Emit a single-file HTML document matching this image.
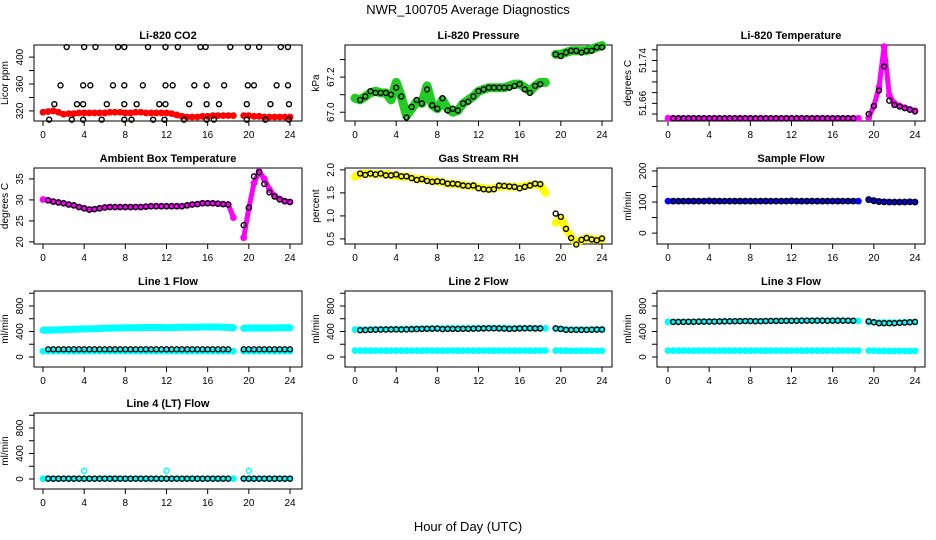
<!DOCTYPE html>
<html><head><meta charset="utf-8"><style>
html,body{margin:0;padding:0;background:#fff;}
svg{display:block;font-family:"Liberation Sans",sans-serif;}
</style></head><body>
<svg id="c" width="936" height="540" viewBox="0 0 936 540">
<text x="468" y="14" text-anchor="middle" font-size="13">NWR_100705  Average Diagnostics</text>
<text x="468" y="531" text-anchor="middle" font-size="13">Hour of Day (UTC)</text>
</svg>
<script>
var hours=[0,0.5,1,1.5,2,2.5,3,3.5,4,4.5,5,5.5,6,6.5,7,7.5,8,8.5,9,9.5,10,10.5,11,11.5,12,12.5,13,13.5,14,14.5,15,15.5,16,16.5,17,17.5,18,18.5,19,19.5,20,20.5,21,21.5,22,22.5,23,23.5,24];
var xTicks=[0,4,8,12,16,20,24];
var N=null;
// CO2
var co2Red=[318,319,320,318,315,316,316,317,317,317,317,317,317,318,318,318,317,317,318,318,317,317,317,317,317,316,314,312,311,311,311,312,312,313,313,313,313,313,N,313,313,312,312,311,311,311,311,311,311];
var co2BlackX=[2.3,4.0,5.1,7.3,7.9,10.2,11.9,13.1,15.3,15.8,18.2,19.9,21.0,23.1,23.8, 1.7,3.9,4.6,6.8,7.9,9.7,11.9,12.6,14.7,15.9,17.6,19.9,20.5,22.7,23.8, 1.1,3.3,3.9,6.2,7.9,9.1,11.3,11.9,14.2,15.9,17.1,19.8,22.1,23.9, 0.6,2.8,3.9,5.7,7.9,8.6,10.7,11.8,13.7,15.9,16.6,19.8,21.6,23.9];
var co2BlackY=[415,415,415,415,415,415,415,415,415,415,415,415,415,415,415, 358,358,358,358,358,358,358,358,358,358,358,358,358,358,358, 330,330,330,330,330,330,330,330,330,330,330,330,330,330, 307,307,307,307,307,307,307,307,307,307,307,307,307,307];
// Pressure
var presGreen=[67.08,67.07,67.09,67.11,67.12,67.11,67.11,67.07,67.17,67.09,66.98,67.02,67.06,67.05,67.15,67.04,67.02,67.07,67.02,67.0,67.01,67.05,67.07,67.09,67.12,67.13,67.14,67.14,67.14,67.14,67.15,67.16,67.16,67.14,67.12,67.15,67.17,67.17,N,67.33,67.33,67.34,67.35,67.35,67.35,67.35,67.36,67.37,67.38];
var presBlack=[N,67.07,67.09,67.12,67.11,67.11,67.11,67.10,67.14,67.09,66.97,67.03,67.07,67.05,67.13,67.04,67.02,67.08,67.01,67.02,67.01,67.05,67.06,67.09,67.12,67.13,67.14,67.14,67.14,67.14,67.14,67.15,67.16,67.13,67.11,67.15,67.16,N,N,67.33,67.32,67.34,67.35,67.35,67.34,67.35,67.35,67.37,67.37];
// Li-820 temperature
var tempMag=[51.632,51.632,51.632,51.632,51.632,51.632,51.632,51.632,51.632,51.632,51.632,51.632,51.632,51.632,51.632,51.632,51.632,51.632,51.632,51.632,51.632,51.632,51.632,51.632,51.632,51.632,51.632,51.632,51.632,51.632,51.632,51.632,51.632,51.632,51.632,51.632,51.632,51.632,N,51.633,51.655,51.690,51.766,51.675,51.660,51.655,51.652,51.649,51.646];
var tempBlack=[N,51.632,51.632,51.632,51.632,51.632,51.632,51.632,51.632,51.632,51.632,51.632,51.632,51.632,51.632,51.632,51.632,51.632,51.632,51.632,51.632,51.632,51.632,51.632,51.632,51.632,51.632,51.632,51.632,51.632,51.632,51.632,51.632,51.632,51.632,51.632,51.632,N,N,51.640,51.655,51.684,51.729,51.665,51.657,51.654,51.651,51.648,51.645];
// Ambient box temperature
var ambMag=[30.1,29.9,29.6,29.4,29.2,28.9,28.7,28.3,28.0,27.7,27.8,28.0,28.2,28.3,28.3,28.3,28.3,28.3,28.3,28.3,28.4,28.5,28.5,28.5,28.5,28.5,28.5,28.5,28.7,28.9,29.0,29.2,29.2,29.2,29.1,29.0,28.9,25.8,N,21.0,28.0,34.0,36.8,35.0,32.5,31.0,30.2,29.7,29.5];
var ambBlack=[N,29.9,29.6,29.4,29.2,28.9,28.7,28.3,28.0,27.7,27.8,28.0,28.2,28.3,28.3,28.3,28.3,28.3,28.3,28.3,28.4,28.5,28.5,28.5,28.5,28.5,28.5,28.5,28.7,28.9,29.0,29.2,29.2,29.2,29.1,29.0,28.9,N,N,24.0,28.2,35.6,36.6,33.8,31.8,30.8,30.1,29.7,29.5];
// Gas stream RH
var rhYel=[1.85,1.9,1.92,1.91,1.9,1.9,1.91,1.88,1.87,1.85,1.85,1.83,1.8,1.8,1.78,1.76,1.75,1.73,1.7,1.7,1.68,1.67,1.65,1.65,1.62,1.6,1.58,1.6,1.63,1.65,1.63,1.63,1.62,1.65,1.67,1.68,1.68,1.5,N,0.85,0.95,0.72,0.55,0.4,0.48,0.52,0.5,0.48,0.5];
var rhBlack=[N,1.92,1.89,1.92,1.9,1.92,1.88,1.88,1.9,1.86,1.86,1.82,1.78,1.8,1.76,1.74,1.75,1.74,1.7,1.7,1.69,1.66,1.65,1.66,1.6,1.58,1.57,1.58,1.66,1.65,1.64,1.63,1.6,1.63,1.66,1.7,1.69,N,N,1.05,0.98,0.72,0.52,0.38,0.48,0.52,0.49,0.47,0.51];
// Sample flow
var sfBlue=[103,103,103,103,103,103,103,103,104,103,103,103,103,103,103,103,103,103,103,103,103,103,103,103,104,103,103,103,103,103,103,103,103,103,103,103,103,103,N,108,105,102,101,100,100,100,100,101,100];
var sfBlack=[N,103,103,103,103,103,103,103,103,103,103,103,103,103,103,103,103,103,103,103,103,103,103,103,103,103,103,103,103,103,103,103,103,103,103,103,103,N,N,107,103,101,100,100,100,100,100,100,100];
// Line flows
var l1High=[420,420,425,425,430,432,435,437,440,440,442,445,450,452,455,455,458,460,460,460,462,462,462,462,458,460,462,465,465,468,468,470,470,470,470,468,462,460,N,450,455,455,455,455,455,455,458,458,458];
var l1Low=[90,90,90,90,90,90,90,90,90,90,90,90,90,90,90,90,90,90,90,90,90,90,90,90,90,90,90,90,90,90,90,90,90,90,90,90,90,90,N,90,90,90,90,90,90,90,90,90,90];
var l1Black=[N,120,120,120,120,120,120,120,120,120,120,120,120,120,120,120,120,120,120,120,120,120,120,120,120,120,120,120,120,120,120,120,120,120,120,120,120,N,N,120,120,120,120,120,120,120,120,120,120];
var l2High=[430,430,432,432,434,434,436,436,438,440,440,442,444,444,446,446,448,448,450,450,450,450,450,450,452,452,452,452,452,452,450,450,450,450,450,450,450,450,N,440,440,435,430,430,430,430,430,432,432];
var l2Low=[100,100,100,100,100,100,100,100,100,100,100,100,100,100,100,100,100,100,100,100,100,100,100,100,100,100,100,100,100,100,100,100,100,100,100,100,100,100,N,100,100,100,98,98,98,98,98,98,98];
var l2Black=[N,420,422,425,428,430,430,432,432,430,432,435,438,440,442,444,446,438,440,440,440,442,442,444,446,448,450,450,448,446,440,444,448,450,450,448,448,N,N,450,440,425,425,425,425,425,428,430,430];
var l3High=[550,550,550,552,552,552,555,555,556,556,558,558,560,560,562,562,562,562,562,565,565,565,568,568,568,568,570,570,570,572,572,572,572,572,570,570,568,565,N,545,545,540,540,540,540,540,545,545,548];
var l3Low=[100,100,100,100,100,100,100,100,100,100,100,100,100,100,100,100,100,100,100,100,100,100,100,100,100,100,100,100,100,100,100,100,100,100,100,100,100,100,N,100,100,95,95,95,95,95,95,95,95];
var l3Black=[N,550,550,550,552,552,555,555,556,556,558,560,560,562,562,564,564,562,562,564,566,566,566,568,568,568,570,570,570,570,570,568,570,570,570,570,568,N,N,560,545,530,530,530,530,535,540,545,550];
var l4Cyan=[5,5,5,5,5,5,5,5,5,5,5,5,5,5,5,5,5,5,5,5,5,5,5,5,5,5,5,5,5,5,5,5,5,5,5,5,5,5,N,5,5,5,5,5,5,5,5,5,5];
var l4Black=[N,5,5,5,5,5,5,5,5,5,5,5,5,5,5,5,5,5,5,5,5,5,5,5,5,5,5,5,5,5,5,5,5,5,5,5,5,N,N,5,5,5,5,5,5,5,5,5,5];
var l4OutX=[4,12,20];
var l4OutY=[130,130,130];

var NS="http://www.w3.org/2000/svg";
var svg=document.getElementById('c');
function mk(tag,attrs,parent){var e=document.createElementNS(NS,tag);for(var k in attrs)e.setAttribute(k,attrs[k]);(parent||svg).appendChild(e);return e;}
var cols=[{l:34,r:302,x0:43,x24:290},{l:345,r:612,x0:355,x24:602},{l:657,r:925,x0:668,x24:915}];
var rows=[{t:45,b:121},{t:168,b:244},{t:291,b:367},{t:413,b:489}];
function panel(name,title,ytitle,row,col,yr,ticks,labels,dec){
  var g=mk('g',{});
  
  
  var C=cols[col],R=rows[row];
  var p={g:g,C:C,R:R,
    x:function(h){return C.x0+(C.x24-C.x0)*h/24;},
    y:function(v){return R.b-(v-yr[0])/(yr[1]-yr[0])*(R.b-R.t);}};
  var tt=mk('text',{x:(C.l+C.r)/2,y:R.t-6,'text-anchor':'middle','font-size':11,'font-weight':'bold'},g);
  tt.textContent=title;
  
  
  var fr=mk('rect',{x:C.l,y:R.t,width:C.r-C.l,height:R.b-R.t,fill:'none',stroke:'#000','stroke-width':1},g);
  
  
  xTicks.forEach(function(h){
    var xx=p.x(h);
    mk('line',{x1:xx,x2:xx,y1:R.b,y2:R.b+5,stroke:'#000'},g);
    var t=mk('text',{x:xx,y:R.b+17,'text-anchor':'middle','font-size':10},g);
    t.textContent=h;
    
    
  });
  ticks.forEach(function(v){
    var yy=p.y(v);
    mk('line',{x1:C.l,x2:C.l-5,y1:yy,y2:yy,stroke:'#000'},g);
  });
  labels.forEach(function(v){
    var yy=p.y(v),xx=C.l-11;
    var t=mk('text',{x:xx,y:yy,'text-anchor':'middle','font-size':10,transform:'rotate(-90 '+xx+' '+yy+')'},g);
    t.textContent=v.toFixed(dec);
    
    
  });
  var yx=C.l-26,yc=(R.t+R.b)/2;
  var yt=mk('text',{x:yx,y:yc,'text-anchor':'middle','font-size':10,transform:'rotate(-90 '+yx+' '+yc+')'},g);
  yt.textContent=ytitle;
  
  
  return p;
}
function band(p,vals,color,w){
  var segs=[],cur=[];
  vals.forEach(function(v,i){if(v===null){if(cur.length)segs.push(cur);cur=[];}else cur.push(p.x(hours[i]).toFixed(1)+','+p.y(v).toFixed(1));});
  if(cur.length)segs.push(cur);
  segs.forEach(function(s){
    var pl=mk('polyline',{points:s.join(' '),fill:'none',stroke:color,'stroke-width':w,'stroke-linecap':'round','stroke-linejoin':'round'},p.g);
    
    
  });
  vals.forEach(function(v,i){if(v===null)return;
    var c=mk('circle',{cx:p.x(hours[i]),cy:p.y(v),r:2.6,fill:'none',stroke:color,'stroke-width':1.6},p.g);
    
    
  });
}
function dots(p,xs,ys,color){
  for(var i=0;i<ys.length;i++){if(ys[i]===null)continue;
    var c=mk('circle',{cx:p.x(xs[i]),cy:p.y(ys[i]),r:2.5,fill:'none',stroke:color,'stroke-width':1.4},p.g);
    
    
  }
}
var p;
p=panel('co2-panel','Li-820 CO2','Licor ppm',0,0,[305,418],[320,340,360,380,400],[320,360,400],0);
band(p,co2Red,'#ff0000',5);dots(p,co2BlackX,co2BlackY,'#000');
p=panel('pressure-panel','Li-820 Pressure','kPa',0,1,[66.95,67.383],[67.0,67.1,67.2,67.3],[67.0,67.2],1);
band(p,presGreen,'#22cc22',9);dots(p,hours,presBlack,'#000');
p=panel('li820-temperature-panel','Li-820 Temperature','degrees C',0,2,[51.627,51.769],[51.64,51.66,51.68,51.70,51.72,51.74,51.76],[51.66,51.74],2);
band(p,tempMag,'#ff00ff',5);dots(p,hours,tempBlack,'#000');
p=panel('ambient-temperature-panel','Ambient Box Temperature','degrees C',1,0,[19.5,37.6],[20,25,30,35],[20,25,30,35],0);
band(p,ambMag,'#ff00ff',5);dots(p,hours,ambBlack,'#000');
p=panel('gas-rh-panel','Gas Stream RH','percent',1,1,[0.39,2.04],[0.5,1.0,1.5,2.0],[0.5,1.0,1.5,2.0],1);
band(p,rhYel,'#ffff00',8);dots(p,hours,rhBlack,'#000');
p=panel('sample-flow-panel','Sample Flow','ml/min',1,2,[-35,209.5],[0,50,100,150,200],[0,100,200],0);
band(p,sfBlue,'#0000ff',5);dots(p,hours,sfBlack,'#000');
var ft=[0,200,400,600,800,1000],fl=[0,400,800],fr=[-157,1035];
p=panel('line1-flow-panel','Line 1 Flow','ml/min',2,0,fr,ft,fl,0);
band(p,l1High,'#00ffff',7);band(p,l1Low,'#00ffff',5);dots(p,hours,l1Black,'#000');
p=panel('line2-flow-panel','Line 2 Flow','ml/min',2,1,fr,ft,fl,0);
band(p,l2High,'#00ffff',5);band(p,l2Low,'#00ffff',5);dots(p,hours,l2Black,'#000');
p=panel('line3-flow-panel','Line 3 Flow','ml/min',2,2,fr,ft,fl,0);
band(p,l3High,'#00ffff',5);band(p,l3Low,'#00ffff',5);dots(p,hours,l3Black,'#000');
p=panel('line4-flow-panel','Line 4 (LT) Flow','ml/min',3,0,fr,ft,fl,0);
band(p,l4Cyan,'#00ffff',5);dots(p,l4OutX,l4OutY,'#00ffff');dots(p,hours,l4Black,'#000');
</script>
</body></html>
